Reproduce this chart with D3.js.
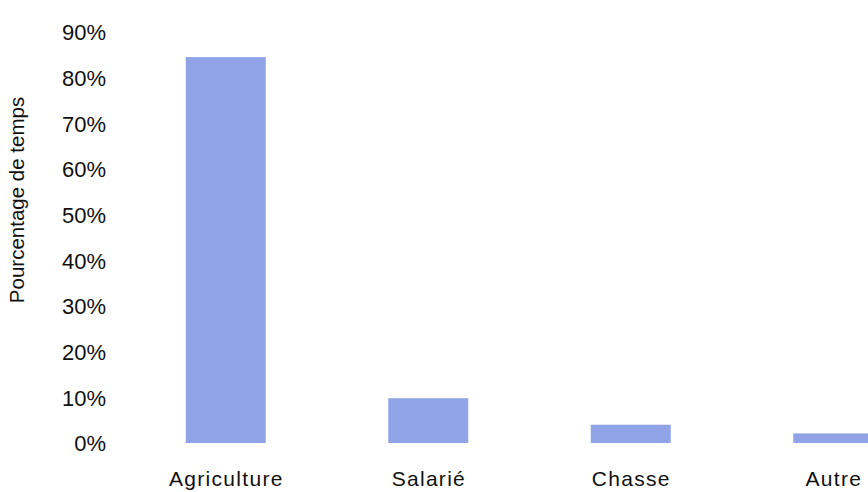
<!DOCTYPE html>
<html><head><meta charset="utf-8">
<script src="https://cdn.jsdelivr.net/npm/d3@7"></script>
<style>body{margin:0;background:#fff}svg{display:block}text{font-family:"Liberation Sans",Arial,sans-serif;fill:#111}</style>
</head><body>
<script>
const categories = ["Agriculture","Salarié","Chasse","Autre"];
const values = [0.845, 0.098, 0.040, 0.021];
const yTicks = [0,0.1,0.2,0.3,0.4,0.5,0.6,0.7,0.8,0.9];
const yTitle = "Pourcentage de temps";

const W=868,H=492;
const svg=d3.select("body").append("svg").attr("width",W).attr("height",H);
const y=d3.scaleLinear().domain([0,0.9]).range([443,32]);
const x=d3.scaleBand().domain(categories).range([124.5,934.5]).paddingInner(0.605).paddingOuter(0.3025);

svg.selectAll("rect.bar").data(categories).enter().append("rect")
  .attr("x",d=>x(d)).attr("width",x.bandwidth())
  .attr("y",(d,i)=>y(values[i])).attr("height",(d,i)=>y(0)-y(values[i]))
  .attr("fill","#8fa3e6");

const yAxis=d3.axisLeft(y).tickValues(yTicks).tickFormat(d3.format(".0%")).tickSize(0).tickPadding(0);
const gy=svg.append("g").attr("transform","translate(106,0)").call(yAxis);
gy.select(".domain").remove();
gy.selectAll("text").attr("font-size",22).attr("font-family","'Liberation Sans',Arial,sans-serif").attr("fill","#111").attr("dy","0.36em");

const xAxis=d3.axisBottom(x).tickSize(0).tickPadding(0);
const gx=svg.append("g").attr("transform","translate(0,486)").call(xAxis);
gx.select(".domain").remove();
gx.selectAll("text").attr("font-size",21).attr("font-family","'Liberation Sans',Arial,sans-serif").attr("fill","#111")
  .attr("dy","0").attr("letter-spacing","1.3px").attr("dx","0.6");

svg.append("text").attr("transform","translate(24,200) rotate(-90)").attr("text-anchor","middle")
  .attr("font-size",20.5).text(yTitle);
</script>
</body></html>
